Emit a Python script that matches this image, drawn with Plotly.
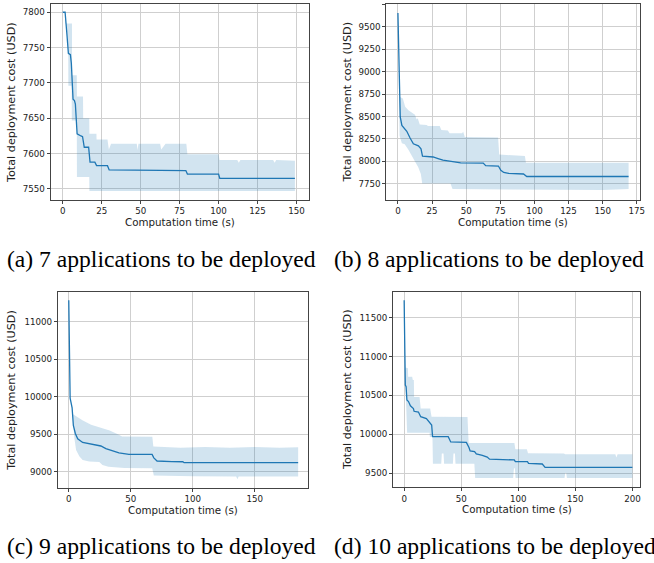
import plotly.graph_objects as go

# ---------------- data ----------------
# (a) 7 applications
A_T_MEAN = [0, 1.5, 2.8, 3.6, 4.9, 5.5, 6.6, 7.5, 8.1, 9.2, 11.7, 12.7, 13.8, 16.6, 17.5, 20.6, 21.7, 28.7, 29.8, 79.0, 80.0, 100.0, 100.8, 149]
A_MEAN = [7800, 7800, 7765, 7742, 7740, 7728, 7677, 7675, 7670, 7628, 7625, 7624, 7609, 7609, 7588, 7588, 7583, 7583, 7577, 7576, 7571, 7571, 7565, 7565]
A_T_HI = [0, 1.5, 1.6, 5.9, 6.0, 9.0, 9.1, 13.0, 13.1, 17.0, 17.1, 21.6, 21.7, 28.7, 29.6, 31.0, 47.5, 48.0, 48.6, 62.5, 63.2, 66.0, 79.3, 80.0, 100.0, 100.6, 112, 113, 114, 135, 136, 137, 149]
A_HI = [7800, 7800, 7784, 7784, 7711, 7711, 7681, 7681, 7650, 7650, 7628, 7628, 7620, 7620, 7606, 7614, 7614, 7605, 7614, 7614, 7606, 7614, 7614, 7599, 7599, 7591, 7591, 7587, 7591, 7591, 7587, 7591, 7590]
A_T_LO = [0, 1.5, 2.8, 3.5, 3.6, 5.7, 5.8, 9.0, 9.1, 17.0, 17.1, 149]
A_LO = [7800, 7800, 7765, 7742, 7696, 7696, 7647, 7647, 7567, 7567, 7547, 7547]

# (b) 8 applications
B_T_MEAN = [0, 0.4, 0.95, 1.7, 2.9, 4.1, 6.5, 8.9, 11.3, 15.0, 16.9, 18.0, 25.8, 29.4, 33.0, 37.8, 46.0, 62.5, 64.3, 73.6, 75.4, 77.5, 81.1, 92.0, 94.4, 169]
B_MEAN = [9656, 9300, 8760, 8495, 8400, 8380, 8335, 8260, 8195, 8172, 8140, 8058, 8048, 8030, 8012, 8002, 7982, 7980, 7951, 7947, 7900, 7875, 7866, 7858, 7830, 7830]
B_T_HI = [0, 0.4, 0.9, 1.2, 3.6, 5.3, 7.7, 11.8, 12.5, 13.7, 14.5, 16.0, 21.0, 22.0, 30.6, 31.8, 36.6, 37.8, 47.0, 47.8, 49.0, 73.4, 74.2, 93.0, 93.8, 169]
B_HI = [9656, 9300, 8760, 8720, 8700, 8610, 8570, 8525, 8520, 8465, 8480, 8410, 8405, 8395, 8395, 8350, 8345, 8313, 8313, 8330, 8272, 8265, 8075, 8060, 7985, 7985]
B_T_LO = [0, 0.4, 0.8, 1.2, 2.9, 5.0, 7.7, 10.1, 12.5, 14.9, 16.8, 17.8, 38.5, 40.0, 90, 150, 169]
B_LO = [9656, 9300, 8700, 8285, 8200, 8190, 8128, 8072, 7998, 7933, 7859, 7752, 7752, 7690, 7690, 7680, 7690]

# (c) 9 applications
C_T_MEAN = [0, 0.5, 1.1, 2.7, 3.7, 5.3, 7.2, 11.2, 17.9, 21.9, 25.9, 29.9, 35.2, 40.5, 48.5, 67.2, 68.6, 71.2, 83.2, 92.0, 93.0, 185]
C_MEAN = [11285, 10506, 9980, 9850, 9618, 9510, 9440, 9390, 9366, 9350, 9343, 9307, 9282, 9250, 9232, 9230, 9185, 9143, 9135, 9133, 9120, 9120]
C_T_HI = [0, 0.5, 1.1, 2.7, 3.1, 6.0, 11.0, 18.0, 25.0, 33.0, 40.0, 43.0, 67.4, 68.2, 90, 110, 130, 150, 170, 185]
C_HI = [11285, 10506, 9985, 9855, 9770, 9740, 9685, 9625, 9590, 9550, 9495, 9470, 9465, 9335, 9320, 9330, 9318, 9328, 9320, 9325]
C_T_LO = [0, 0.5, 1.1, 2.7, 3.2, 4.5, 5.9, 8.5, 11.2, 16.5, 24.6, 27.2, 32.0, 45.0, 67.3, 68.6, 100, 135, 136, 137, 185]
C_LO = [11285, 10506, 9980, 9845, 9733, 9450, 9290, 9205, 9155, 9135, 9130, 9090, 9065, 9048, 9045, 8950, 8940, 8935, 8900, 8935, 8935]

# (d) 10 applications
D_T_MEAN = [0, 0.6, 1.0, 1.7, 2.4, 3.8, 5.5, 8.1, 8.7, 12.5, 14.5, 19.5, 22.6, 24.1, 24.9, 38.6, 40.8, 54.5, 56.8, 57.8, 61.7, 63.2, 68.5, 72.8, 74.8, 96.5, 97.4, 108, 109, 121, 123.5, 200]
D_MEAN = [11725, 11000, 10632, 10612, 10440, 10420, 10365, 10330, 10295, 10285, 10225, 10200, 10140, 10118, 9970, 9968, 9900, 9895, 9828, 9785, 9775, 9745, 9728, 9705, 9678, 9668, 9646, 9646, 9624, 9616, 9573, 9573]
D_T_HI = [0, 0.6, 1.0, 3.3, 3.5, 7.0, 7.6, 8.5, 8.7, 13.5, 14.5, 22.8, 24.0, 55.5, 56.5, 96.6, 97.4, 107.5, 108.5, 140, 141, 185, 186, 187, 200]
D_HI = [11725, 11000, 10860, 10850, 10740, 10740, 10697, 10697, 10480, 10480, 10330, 10330, 10225, 10222, 9885, 9885, 9805, 9805, 9753, 9750, 9740, 9740, 9700, 9740, 9740]
D_T_LO = [0, 0.6, 1.0, 1.5, 2.6, 22.3, 22.5, 24.8, 25.2, 32.5, 33.0, 34.5, 35.0, 42.7, 43.2, 44.5, 45.0, 61.5, 62.2, 95.5, 96.2, 97.0, 97.6, 140.5, 141.2, 142, 142.6, 200]
D_LO = [11725, 11000, 10630, 10480, 10020, 10020, 9965, 9965, 9618, 9618, 9750, 9750, 9618, 9618, 9750, 9750, 9618, 9618, 9435, 9435, 9560, 9560, 9435, 9435, 9500, 9500, 9435, 9435]

CAPTIONS = ["(a) 7 applications to be deployed", "(b) 8 applications to be deployed",
            "(c) 9 applications to be deployed", "(d) 10 applications to be deployed"]
X_TITLE = "Computation time (s)"
Y_TITLE = "Total deployment cost (USD)"

# ---------------- layout geometry ----------------
W, H = 654, 563
panels = [
    dict(data=(A_T_MEAN, A_MEAN, A_T_HI, A_HI, A_T_LO, A_LO),
         px=(51, 311), py=(4, 200), xr=[-7.8, 157.8], yr=[7534.4, 7811.7],
         xt=[0, 25, 50, 75, 100, 125, 150], yt=[7550, 7600, 7650, 7700, 7750, 7800]),
    dict(data=(B_T_MEAN, B_MEAN, B_T_HI, B_HI, B_T_LO, B_LO),
         px=(389.3, 645), py=(4.3, 200), xr=[-8.5, 177.4], yr=[7568, 9752],
         xt=[0, 25, 50, 75, 100, 125, 150, 175], yt=[7750, 8000, 8250, 8500, 8750, 9000, 9250, 9500, 9750]),
    dict(data=(C_T_MEAN, C_MEAN, C_T_HI, C_HI, C_T_LO, C_LO),
         px=(58.3, 310.7), py=(291.7, 488), xr=[-8.8, 193.2], yr=[8783, 11400],
         xt=[0, 50, 100, 150], yt=[9000, 9500, 10000, 10500, 11000]),
    dict(data=(D_T_MEAN, D_MEAN, D_T_HI, D_HI, D_T_LO, D_LO),
         px=(396, 645), py=(292, 487.3), xr=[-9.8, 206.7], yr=[9316, 11831],
         xt=[0, 50, 100, 150, 200], yt=[9500, 10000, 10500, 11000, 11500]),
]
ytitle_x = [12, 350, 12, 350]
caption_pos = [(5, 259), (335, 259), (5, 546), (335, 546)]

BLUE = "#1f77b4"
BAND = "rgba(31,119,180,0.2)"
TICKFONT = dict(family="DejaVu Sans", size=8.7, color="#222")
XTITLEFONT = dict(family="DejaVu Sans", size=10.3, color="#222")
YTITLEFONT = dict(family="DejaVu Sans", size=11.2, color="#222")

fig = go.Figure()
layout = dict(width=W, height=H, margin=dict(l=0, r=0, t=0, b=0),
              paper_bgcolor="white", plot_bgcolor="white", showlegend=False)
annotations = []

for i, p in enumerate(panels):
    k = "" if i == 0 else str(i + 1)
    tm, m, th, hi, tl, lo = p["data"]
    band_x = list(th) + list(tl)[::-1]
    band_y = list(hi) + list(lo)[::-1]
    fig.add_trace(go.Scatter(x=band_x, y=band_y, fill="toself", fillcolor=BAND,
                             line=dict(width=0), mode="lines", hoverinfo="skip",
                             xaxis="x" + k, yaxis="y" + k))
    fig.add_trace(go.Scatter(x=tm, y=m, mode="lines", line=dict(color=BLUE, width=1.3),
                             xaxis="x" + k, yaxis="y" + k))
    x0, x1 = p["px"]
    y0, y1 = p["py"]
    common = dict(showline=True, linecolor="#444", linewidth=1, mirror=True,
                  showgrid=True, gridcolor="#cfcfcf", gridwidth=1, zeroline=False,
                  ticks="outside", ticklen=3, tickwidth=1, tickcolor="#444",
                  tickfont=TICKFONT, tickformat="d")
    layout["xaxis" + k] = dict(common, domain=[x0 / W, x1 / W], range=p["xr"],
                               tickvals=p["xt"], anchor="y" + k)
    layout["yaxis" + k] = dict(common, domain=[1 - y1 / H, 1 - y0 / H], range=p["yr"],
                               tickvals=p["yt"], anchor="x" + k)
    # axis titles
    annotations.append(dict(text=X_TITLE, x=(x0 + x1) / 2 / W, y=1 - (y1 + 22) / H,
                            xref="paper", yref="paper", showarrow=False,
                            xanchor="center", yanchor="middle", font=XTITLEFONT))
    annotations.append(dict(text=Y_TITLE, x=ytitle_x[i] / W, y=1 - (y0 + y1) / 2 / H,
                            xref="paper", yref="paper", showarrow=False, textangle=-90,
                            xanchor="center", yanchor="middle", font=YTITLEFONT))
    cx, cy = caption_pos[i]
    annotations.append(dict(text=CAPTIONS[i], x=cx / W, y=1 - cy / H,
                            xref="paper", yref="paper", showarrow=False,
                            xanchor="left", yanchor="middle",
                            font=dict(family="Liberation Serif", size=23.6, color="black")))

layout["annotations"] = annotations
fig.update_layout(**layout)
fig.write_html("out.html", config={"displayModeBar": False},
               post_script="document.body.style.margin='0';document.body.style.overflow='hidden';")
